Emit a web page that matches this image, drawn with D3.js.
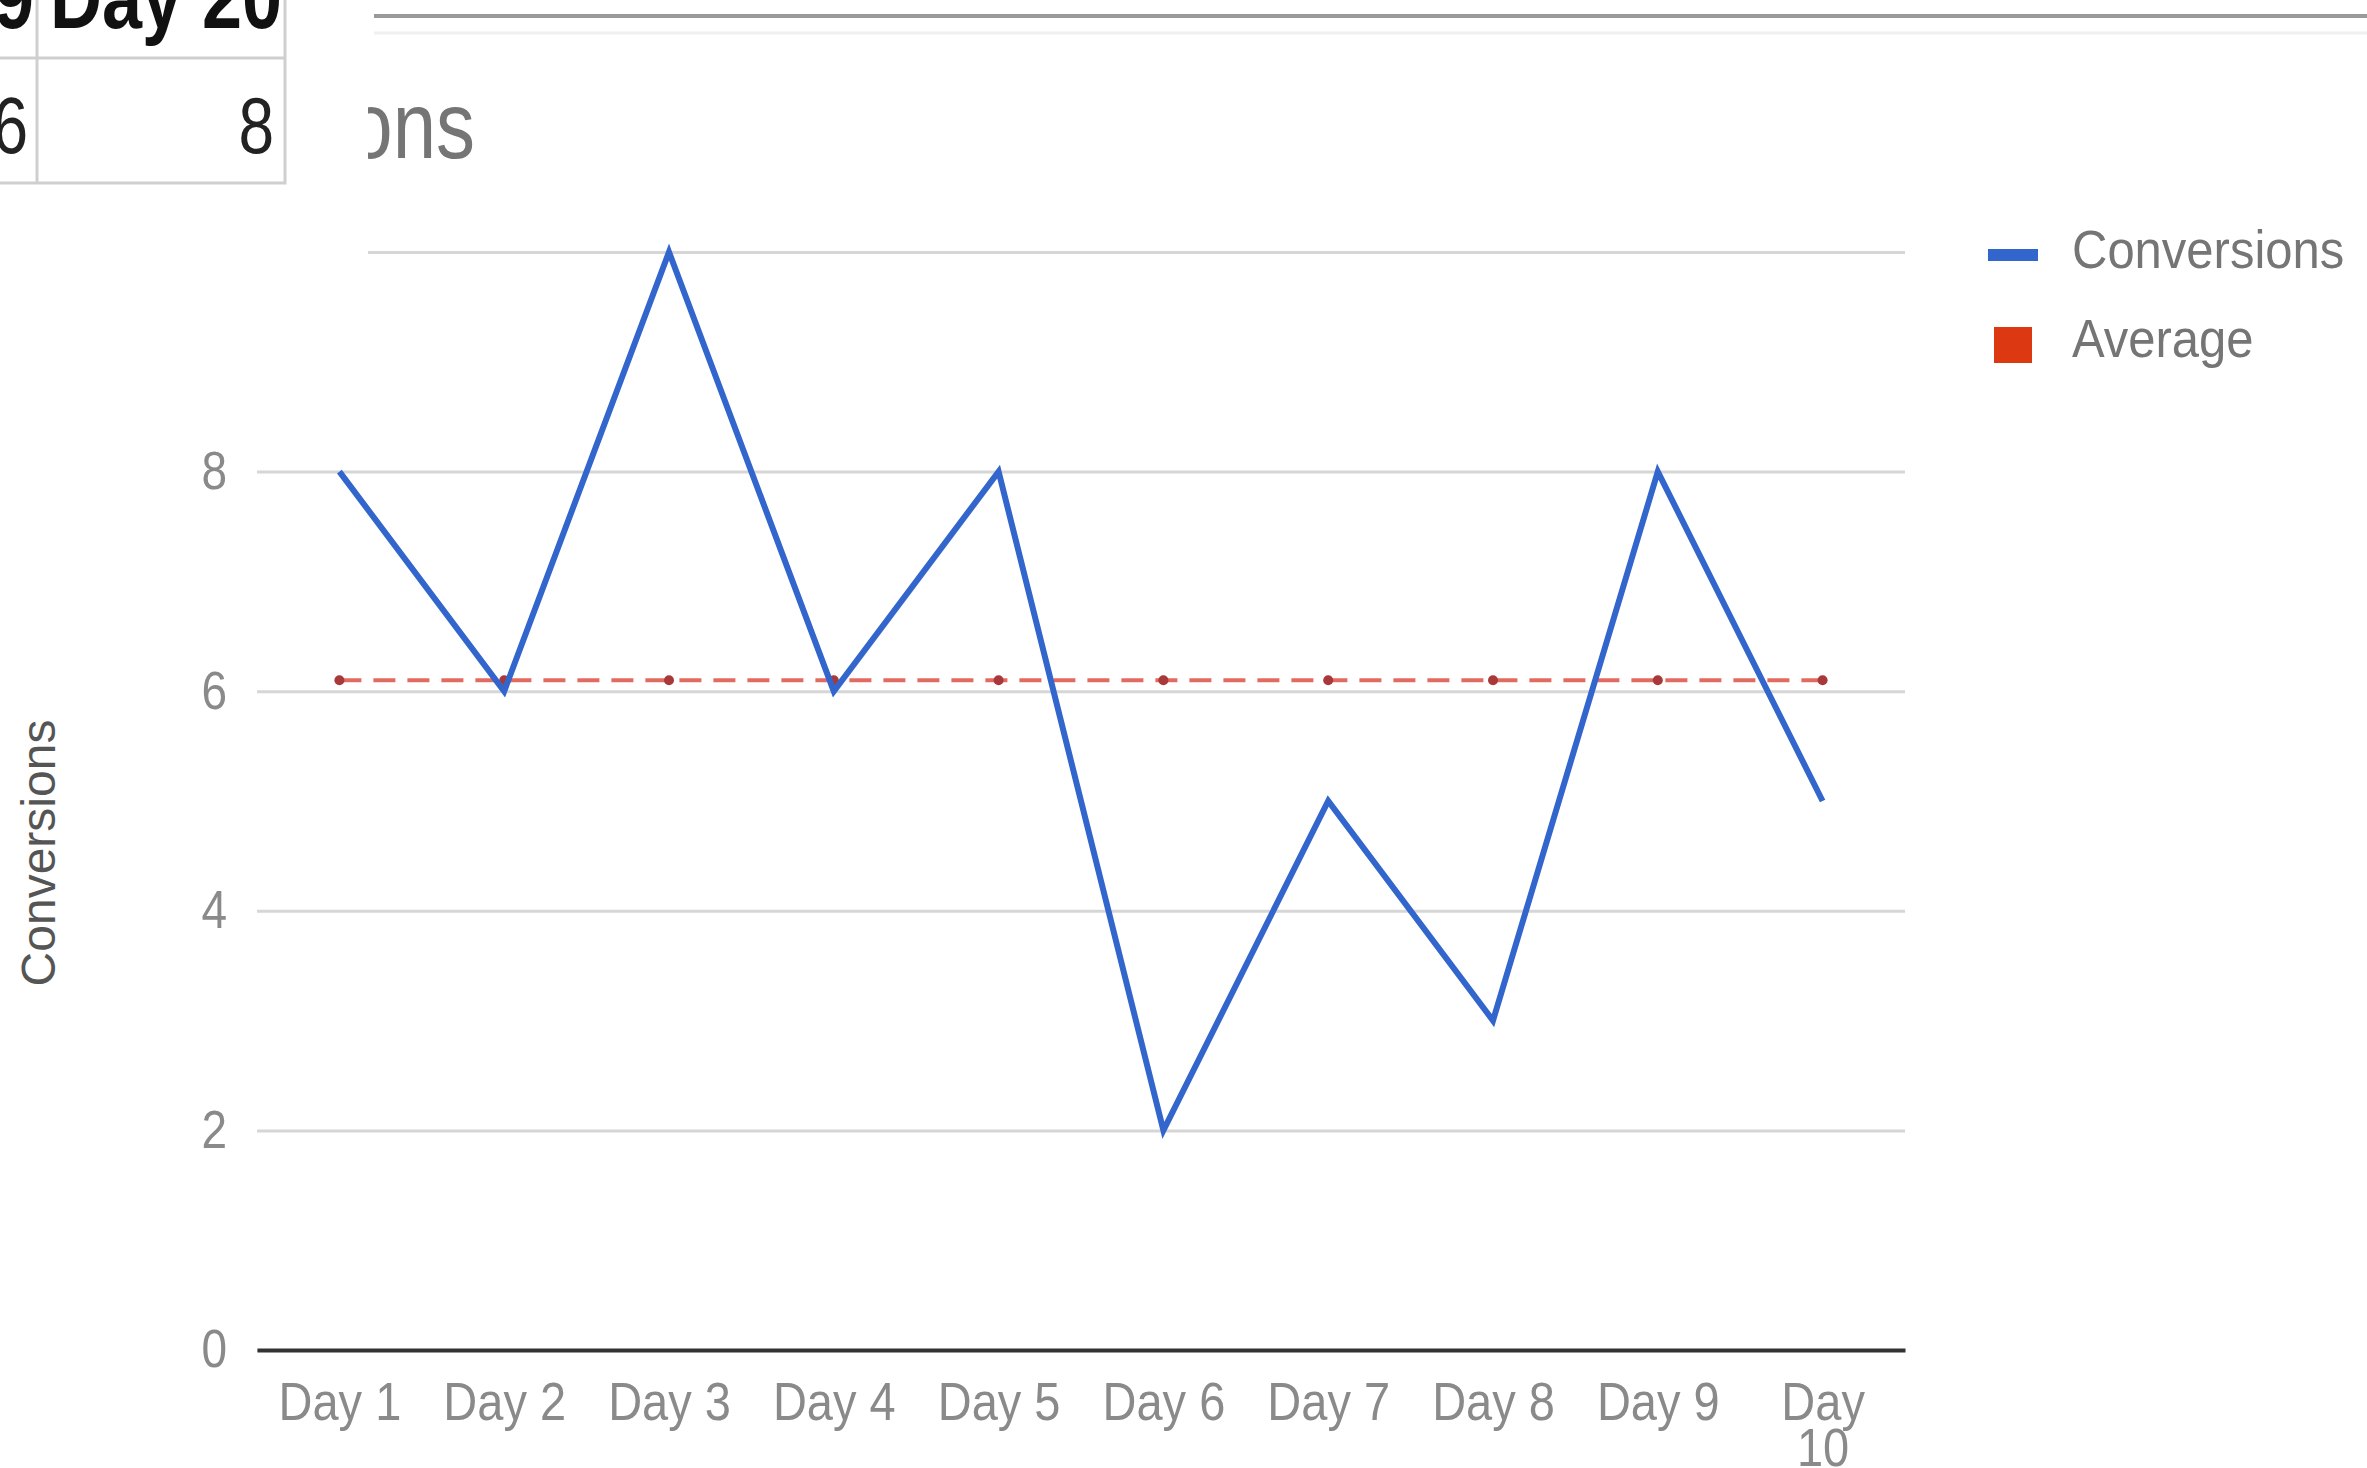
<!DOCTYPE html>
<html>
<head>
<meta charset="utf-8">
<script src="https://cdn.jsdelivr.net/npm/d3@7"></script>
<style>
  body { margin: 0; background: #fff; }
  svg { display: block; font-family: "Liberation Sans", Arial, sans-serif; }
</style>
</head>
<body>
<div id="chart"></div>
<script>
// chart data
var days = ["Day 1", "Day 2", "Day 3", "Day 4", "Day 5", "Day 6", "Day 7", "Day 8", "Day 9", "Day 10"];
var conversions = [8, 6, 10, 6, 8, 2, 5, 3, 8, 5];
var average = [6.1, 6.1, 6.1, 6.1, 6.1, 6.1, 6.1, 6.1, 6.1, 6.1];
var yTicks = [0, 2, 4, 6, 8, 10];
var seriesNames = ["Conversions", "Average"];
// bit of the sheet table that sits over the chart
var tableHeader = ["Day 19", "Day 20"];
var tableRow = [6, 8];

var W = 2367, H = 1468;
var plot = { left: 257, right: 1905, top: 252, bottom: 1350 };
var stretch = 1.15; // text in the picture is a bit tall

var svg = d3.select("#chart").append("svg")
    .attr("width", W)
    .attr("height", H);

var x = d3.scalePoint()
    .domain(days)
    .range([plot.left, plot.right])
    .padding(0.5);

var y = d3.scaleLinear()
    .domain([0, 10])
    .range([plot.bottom, plot.top]);

// sheet line along the top
svg.append("line")
    .attr("x1", 374).attr("x2", W)
    .attr("y1", 16).attr("y2", 16)
    .attr("stroke", "#9a9a9a").attr("stroke-width", 4);
svg.append("line")
    .attr("x1", 374).attr("x2", W)
    .attr("y1", 33).attr("y2", 33)
    .attr("stroke", "#f0f0f0").attr("stroke-width", 3);

// title
svg.append("text")
    .attr("transform", "translate(475,158) scale(1," + (stretch + 0.05) + ")")
    .attr("text-anchor", "end")
    .attr("font-size", 78)
    .attr("fill", "#757575")
    .text("Conversions");

// y axis with gridlines
var yAxis = svg.append("g")
    .attr("transform", "translate(" + plot.left + ",0)")
    .call(d3.axisLeft(y).tickValues(yTicks).tickSize(-(plot.right - plot.left)).tickPadding(30));
yAxis.select(".domain").remove();
yAxis.selectAll("line")
    .attr("stroke", "#d6d6d6")
    .attr("stroke-width", 3);
yAxis.selectAll("text")
    .attr("font-size", 46)
    .attr("fill", "#8a8a8a")
    .attr("font-family", "\"Liberation Sans\", Arial, sans-serif")
    .attr("transform", "scale(1," + stretch + ")");

// x axis
var xAxis = svg.append("g")
    .attr("transform", "translate(0," + plot.bottom + ")")
    .call(d3.axisBottom(x).tickSize(0));
xAxis.select(".domain")
    .attr("stroke", "#333")
    .attr("stroke-width", 4);
xAxis.selectAll("text")
    .attr("y", 0)
    .attr("dy", null)
    .attr("font-size", 47)
    .attr("fill", "#8a8a8a")
    .attr("font-family", "\"Liberation Sans\", Arial, sans-serif")
    .attr("transform", "translate(0,70) scale(1," + stretch + ")")
    .each(function (d) {
        var parts = d.split(" ");
        if (d.length > 5) {
            var t = d3.select(this).text(null);
            t.append("tspan").attr("x", 0).attr("dy", 0).text(parts[0]);
            t.append("tspan").attr("x", 0).attr("dy", 40).text(parts[1]);
        }
    });

// y axis title
svg.append("text")
    .attr("transform", "translate(55,853) rotate(-90)")
    .attr("text-anchor", "middle")
    .attr("font-size", 48)
    .attr("fill", "#555")
    .text("Conversions");

// average line (dashed) with points
var line = d3.line()
    .x(function (d, i) { return x(days[i]); })
    .y(function (d) { return y(d); });

svg.append("path")
    .datum(average)
    .attr("d", line)
    .attr("fill", "none")
    .attr("stroke", "#d9463a")
    .attr("stroke-opacity", 0.8)
    .attr("stroke-width", 4)
    .attr("stroke-dasharray", "22,12");

svg.selectAll(".avgdot")
    .data(average)
    .enter()
    .append("circle")
    .attr("class", "avgdot")
    .attr("cx", function (d, i) { return x(days[i]); })
    .attr("cy", function (d) { return y(d); })
    .attr("r", 5)
    .attr("fill", "#a8383a");

// conversions line
svg.append("path")
    .datum(conversions)
    .attr("d", line)
    .attr("fill", "none")
    .attr("stroke", "#3366cc")
    .attr("stroke-width", 6)
    .attr("stroke-linejoin", "miter");

// legend
var legend = svg.append("g");
legend.append("rect")
    .attr("x", 1988).attr("y", 249)
    .attr("width", 50).attr("height", 12)
    .attr("fill", "#3366cc");
legend.append("rect")
    .attr("x", 1994).attr("y", 327)
    .attr("width", 38).attr("height", 36)
    .attr("fill", "#dc3912");
legend.selectAll("text")
    .data(seriesNames)
    .enter()
    .append("text")
    .attr("transform", function (d, i) {
        return "translate(2072," + (268 + i * 89) + ") scale(1,1.08)";
    })
    .attr("font-size", 49)
    .attr("fill", "#757575")
    .text(function (d) { return d; });

// white patch left by the sheet over the chart corner
svg.append("rect")
    .attr("x", 0).attr("y", 0)
    .attr("width", 368).attr("height", 290)
    .attr("fill", "#fff");

// table cells
var table = svg.append("g");
table.append("rect")
    .attr("x", -20).attr("y", -10)
    .attr("width", 305).attr("height", 193)
    .attr("fill", "#fff")
    .attr("stroke", "#cfcfcf")
    .attr("stroke-width", 3);
table.append("line")
    .attr("x1", 0).attr("x2", 285)
    .attr("y1", 58).attr("y2", 58)
    .attr("stroke", "#cfcfcf").attr("stroke-width", 3);
table.append("line")
    .attr("x1", 37).attr("x2", 37)
    .attr("y1", 0).attr("y2", 183)
    .attr("stroke", "#cfcfcf").attr("stroke-width", 3);

var colCenters = [-82, 166];
var colRights = [28, 274];
table.selectAll(".hdr")
    .data(tableHeader)
    .enter()
    .append("text")
    .attr("class", "hdr")
    .attr("transform", function (d, i) {
        return "translate(" + colCenters[i] + ",28) scale(1,1.2)";
    })
    .attr("text-anchor", "middle")
    .attr("font-family", "\"Liberation Sans Narrow\", \"Arial Narrow\", sans-serif")
    .attr("font-weight", "bold")
    .attr("font-size", 72)
    .attr("fill", "#111")
    .text(function (d) { return d; });

table.selectAll(".cell")
    .data(tableRow)
    .enter()
    .append("text")
    .attr("class", "cell")
    .attr("transform", function (d, i) {
        return "translate(" + colRights[i] + ",153) scale(1,1.25)";
    })
    .attr("text-anchor", "end")
    .attr("font-family", "\"Liberation Sans Narrow\", \"Arial Narrow\", sans-serif")
    .attr("font-size", 64)
    .attr("fill", "#222")
    .text(function (d) { return d; });
</script>
</body>
</html>
